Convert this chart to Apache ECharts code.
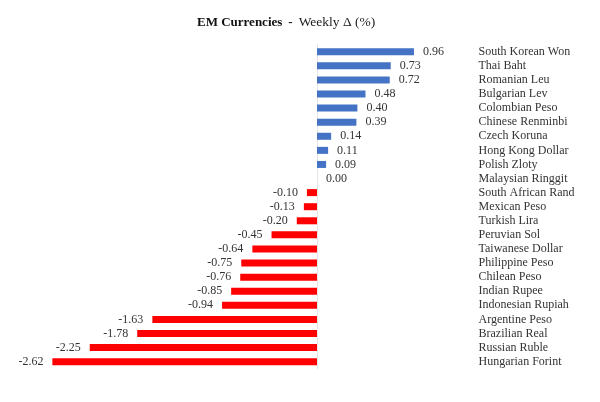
<!DOCTYPE html>
<html>
<head>
<meta charset="utf-8">
<script src="https://cdn.jsdelivr.net/npm/echarts@6/dist/echarts.min.js"></script>
<style>
  html, body { margin: 0; padding: 0; background: #fff; }
</style>
</head>
<body>
<div id="main" style="width: 600px; height: 402px;"></div>
<script>
var currencies = [
  "South Korean Won", "Thai Baht", "Romanian Leu", "Bulgarian Lev",
  "Colombian Peso", "Chinese Renminbi", "Czech Koruna", "Hong Kong Dollar",
  "Polish Zloty", "Malaysian Ringgit", "South African Rand", "Mexican Peso",
  "Turkish Lira", "Peruvian Sol", "Taiwanese Dollar", "Philippine Peso",
  "Chilean Peso", "Indian Rupee", "Indonesian Rupiah", "Argentine Peso",
  "Brazilian Real", "Russian Ruble", "Hungarian Forint"
];
var weeklyChange = [
  0.96, 0.73, 0.72, 0.48, 0.40, 0.39, 0.14, 0.11, 0.09, 0.00,
  -0.10, -0.13, -0.20, -0.45, -0.64, -0.75, -0.76, -0.85, -0.94,
  -1.63, -1.78, -2.25, -2.62
];

var serif = "'Liberation Serif', 'Times New Roman', serif";

var myChart = echarts.init(document.getElementById("main"));

var barData = weeklyChange.map(function (v) {
  return {
    value: v,
    itemStyle: { color: v < 0 ? "#ff0000" : "#4472c4" },
    label: { position: v < 0 ? "left" : "right" }
  };
});

var option = {
  animation: false,
  title: {
    text: "{b|EM Currencies}{s| }{b|-}{s| }{n|Weekly \u0394 (%)}",
    left: 192,
    top: 8,
    textStyle: {
      fontWeight: "normal",
      fontSize: 12,
      rich: {
        b: { fontFamily: serif, fontWeight: "bold", fontSize: 13, lineHeight: 16, verticalAlign: "bottom", color: "#111" },
        s: { fontFamily: serif, fontSize: 13, width: 6, lineHeight: 16, verticalAlign: "bottom" },
        n: { fontFamily: serif, fontWeight: "normal", fontSize: 13.5, lineHeight: 16, verticalAlign: "bottom", color: "#222" }
      }
    }
  },
  grid: {
    left: 14,
    right: 131.5,
    top: 44.7,
    bottom: 33.3
  },
  xAxis: {
    type: "value",
    min: -3,
    max: 1.5,
    show: false
  },
  yAxis: [
    {
      type: "category",
      data: currencies,
      inverse: true,
      axisLine: { show: true, onZero: true, lineStyle: { color: "#e4e4e4", width: 1 } },
      axisTick: { show: false },
      axisLabel: { show: false },
      splitLine: { show: false }
    },
    {
      type: "category",
      data: currencies,
      inverse: true,
      position: "right",
      axisLine: { show: false },
      axisTick: { show: false },
      splitLine: { show: false },
      axisLabel: {
        interval: 0,
        margin: 10,
        align: "left",
        fontFamily: serif,
        fontSize: 12,
        color: "#333"
      }
    }
  ],
  series: [
    {
      type: "bar",
      yAxisIndex: 0,
      barWidth: 7,
      data: barData,
      label: {
        show: true,
        distance: 9,
        fontFamily: serif,
        fontSize: 12,
        color: "#333",
        formatter: function (p) {
          return p.value.toFixed(2);
        }
      }
    }
  ]
};
myChart.setOption(option);
</script>
</body>
</html>
